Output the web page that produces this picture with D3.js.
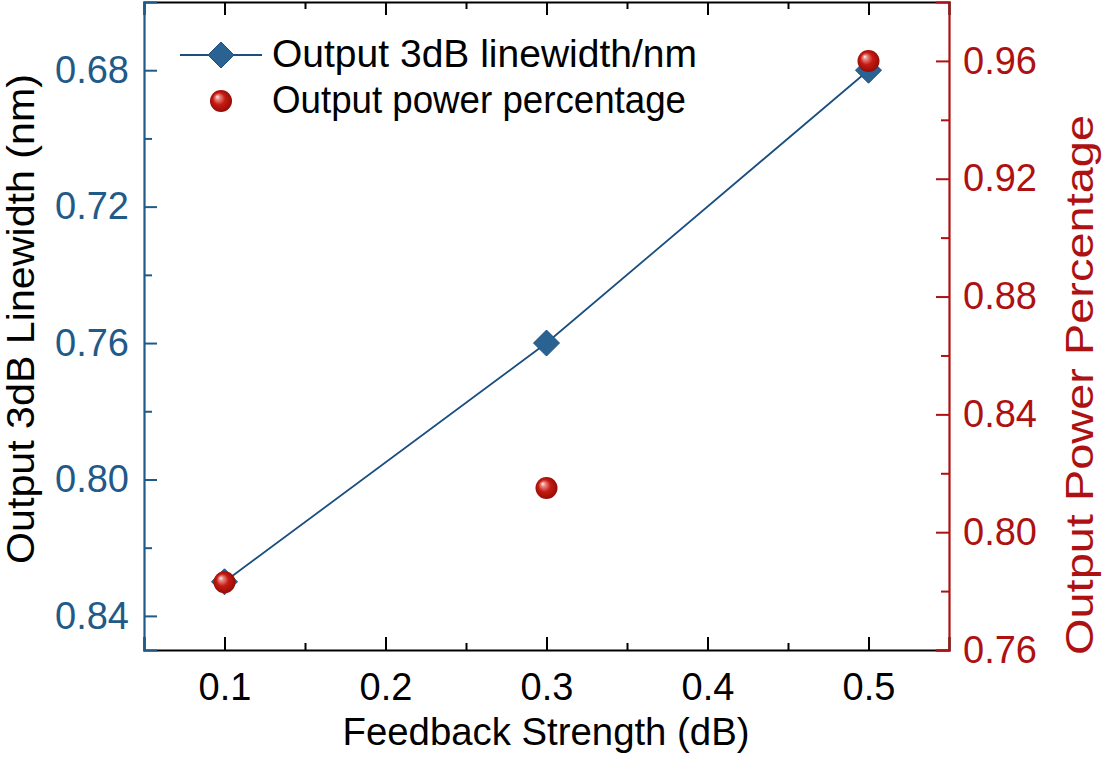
<!DOCTYPE html>
<html>
<head>
<meta charset="utf-8">
<title>Linewidth and output power vs feedback strength</title>
<script src="https://d3js.org/d3.v7.min.js"></script>
<style>
    body { margin: 0; background: #fff; }
    svg { font-family: 'Liberation Sans', Arial, sans-serif; }
</style>
</head>
<body>
<div id="chart"></div>
<script>
    // data
    const feedback = [0.1, 0.3, 0.5]
    const linewidth = [0.830, 0.760, 0.680]
    const powerPct = [0.783, 0.815, 0.960]

    const xTicks = [0.1, 0.2, 0.3, 0.4, 0.5]
    const xMinor = [0.15, 0.25, 0.35, 0.45]
    const leftTicks = [0.68, 0.72, 0.76, 0.80, 0.84]
    const leftMinor = [0.70, 0.74, 0.78, 0.82]
    const rightTicks = [0.76, 0.80, 0.84, 0.88, 0.92, 0.96]
    const rightMinor = [0.78, 0.82, 0.86, 0.90, 0.94]
    const legendLabels = ['Output 3dB linewidth/nm', 'Output power percentage']

    const blue = '#1f5a88'
    const markerBlue = '#2a6392'
    const lineBlue = '#1b4f80'
    const red = '#ad1111'

    const W = 1105, H = 760
    const margin = { left: 144, right: 156, top: 2, bottom: 110 }
    const width = W - margin.left - margin.right
    const height = H - margin.top - margin.bottom

    const svg = d3.select('#chart').append('svg')
        .attr('width', W)
        .attr('height', H)

    const grad = svg.append('defs').append('radialGradient')
        .attr('id', 'sphere')
        .attr('cx', '0.5').attr('cy', '0.5').attr('r', '0.55')
        .attr('fx', '0.32').attr('fy', '0.3')
    grad.append('stop').attr('offset', '0%').attr('stop-color', '#fff4f4')
    grad.append('stop').attr('offset', '18%').attr('stop-color', '#e98a86')
    grad.append('stop').attr('offset', '50%').attr('stop-color', '#c61b12')
    grad.append('stop').attr('offset', '100%').attr('stop-color', '#8c0a04')

    const g = svg.append('g')
        .attr('transform', `translate(${margin.left},${margin.top})`)

    const x = d3.scaleLinear().domain([0.05, 0.55]).range([0, width])
    const yL = d3.scaleLinear().domain([0.66, 0.85]).range([0, height])
    const yR = d3.scaleLinear().domain([0.76, 0.98]).range([height, 0])

    const fontSize = 38

    // helper: draw an axis with inward major + minor ticks in one colour
    function drawAxis(axisFn, scale, major, minor, fmt, pad, shift, color, minorLen) {
        const a = g.append('g').attr('transform', shift)
            .call(axisFn(scale).tickValues(major).tickSize(-13).tickPadding(pad).tickFormat(fmt))
        const m = g.append('g').attr('transform', shift)
            .call(axisFn(scale).tickValues(minor).tickSize(-minorLen).tickFormat(''))
        m.select('.domain').remove()
        a.select('.domain').attr('stroke', color).attr('stroke-width', 2.2)
        a.selectAll('.tick line').attr('stroke', color).attr('stroke-width', 2)
        m.selectAll('.tick line').attr('stroke', color).attr('stroke-width', 2)
        a.selectAll('.tick text')
            .attr('font-size', fontSize)
            .attr('font-family', null)
            .attr('fill', color === '#000' ? '#000' : color)
        return a
    }

    drawAxis(d3.axisBottom, x, xTicks, xMinor, d3.format('.1f'), 23, `translate(0,${height})`, '#000', 7)
    drawAxis(d3.axisTop, x, xTicks, xMinor, '', 0, 'translate(0,0)', '#000', 7)
    drawAxis(d3.axisLeft, yL, leftTicks, leftMinor, d3.format('.2f'), 15, 'translate(0,0)', blue, 8)
    drawAxis(d3.axisRight, yR, rightTicks, rightMinor, d3.format('.2f'), 14, `translate(${width},0)`, red, 8)

    // line + diamonds
    const line = d3.line()
        .x((d, i) => x(feedback[i]))
        .y(d => yL(d))

    g.append('path')
        .datum(linewidth)
        .attr('d', line)
        .attr('fill', 'none')
        .attr('stroke', lineBlue)
        .attr('stroke-width', 1.8)

    const diamond = s => `M0,${-s}L${s},0L0,${s}L${-s},0Z`

    g.append('g')
        .selectAll('path')
        .data(linewidth)
        .join('path')
        .attr('transform', (d, i) => `translate(${x(feedback[i])},${yL(d)})`)
        .attr('d', diamond(13))
        .attr('fill', markerBlue)
        .attr('stroke', lineBlue)
        .attr('stroke-width', 1)

    // spheres
    g.append('g')
        .selectAll('circle')
        .data(powerPct)
        .join('circle')
        .attr('cx', (d, i) => x(feedback[i]))
        .attr('cy', d => yR(d))
        .attr('r', 11)
        .attr('fill', 'url(#sphere)')

    // titles
    svg.append('text')
        .attr('transform', `translate(34,319) rotate(-90)`)
        .attr('text-anchor', 'middle')
        .attr('font-size', fontSize)
        .attr('textLength', 490)
        .attr('lengthAdjust', 'spacingAndGlyphs')
        .text('Output 3dB Linewidth (nm)')

    svg.append('text')
        .attr('transform', `translate(1093,385) rotate(-90)`)
        .attr('text-anchor', 'middle')
        .attr('font-size', fontSize)
        .attr('fill', red)
        .attr('textLength', 540)
        .attr('lengthAdjust', 'spacingAndGlyphs')
        .text('Output Power Percentage')

    svg.append('text')
        .attr('x', 546)
        .attr('y', 745)
        .attr('text-anchor', 'middle')
        .attr('font-size', fontSize)
        .attr('textLength', 407)
        .attr('lengthAdjust', 'spacingAndGlyphs')
        .text('Feedback Strength (dB)')

    // legend
    const legend = svg.append('g')
    const rowY = [55, 101]
    const legendLen = [425, 414]
    legend.append('line')
        .attr('x1', 180).attr('x2', 262)
        .attr('y1', rowY[0]).attr('y2', rowY[0])
        .attr('stroke', lineBlue)
        .attr('stroke-width', 1.8)
    legend.append('path')
        .attr('transform', `translate(221,${rowY[0]})`)
        .attr('d', diamond(13))
        .attr('fill', markerBlue)
        .attr('stroke', lineBlue)
    legend.append('circle')
        .attr('cx', 221).attr('cy', rowY[1])
        .attr('r', 11)
        .attr('fill', 'url(#sphere)')
    legend.selectAll('text')
        .data(legendLabels)
        .join('text')
        .attr('x', 272)
        .attr('y', (d, i) => rowY[i] + 12)
        .attr('font-size', fontSize)
        .attr('textLength', (d, i) => legendLen[i])
        .attr('lengthAdjust', 'spacingAndGlyphs')
        .text(d => d)
</script>
</body>
</html>
